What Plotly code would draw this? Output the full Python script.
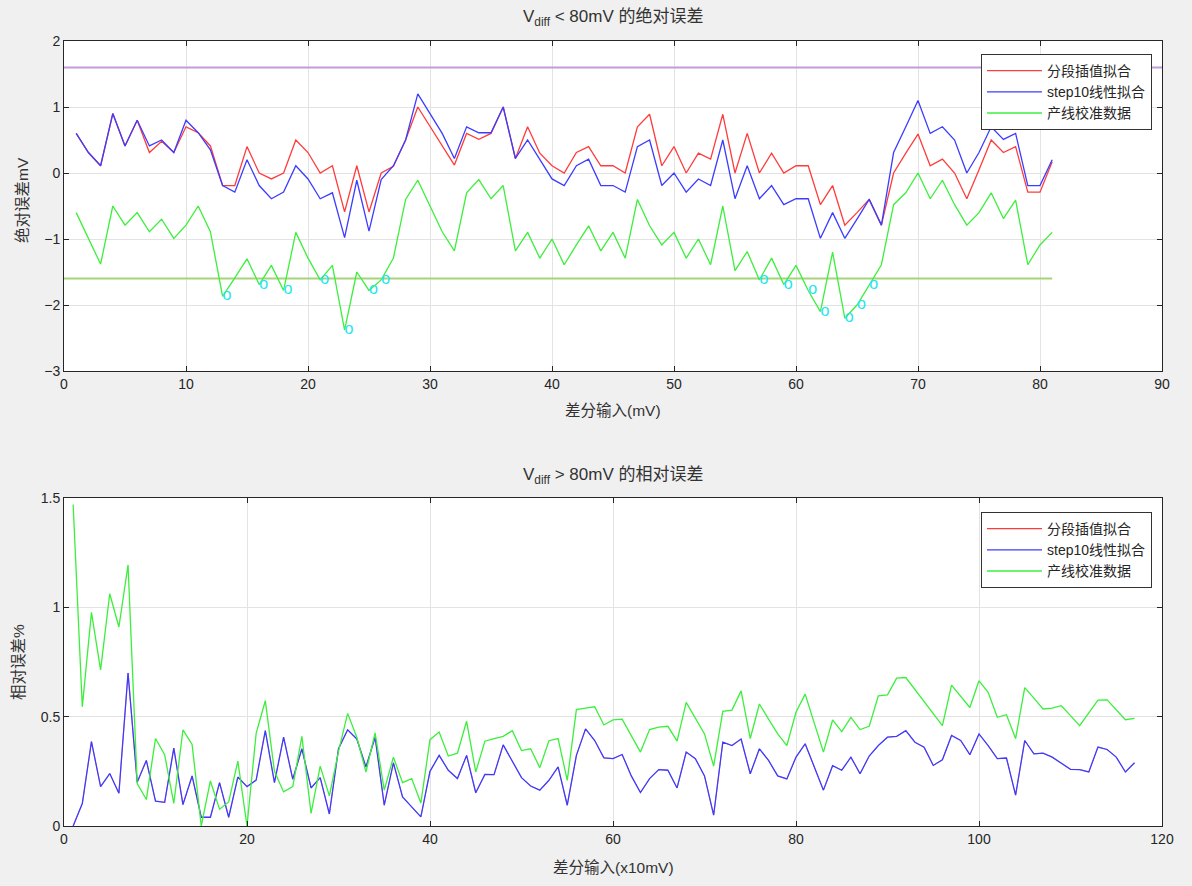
import plotly.graph_objects as go

# ---------------- data: top chart (Vdiff < 80mV, absolute error, mV) ----------------
top_red = [0.60, 0.31, 0.11, 0.90, 0.41, 0.80, 0.31, 0.48, 0.31, 0.70,
           0.61, 0.41, -0.19, -0.19, 0.40, 0.00, -0.09, 0.00, 0.50, 0.31,
           0.00, 0.11, -0.59, 0.11, -0.59, 0.00, 0.10, 0.50, 1.00, 0.70,
           0.40, 0.12, 0.60, 0.51, 0.60, 1.00, 0.22, 0.70, 0.30, 0.11,
           0.00, 0.31, 0.40, 0.11, 0.11, 0.00, 0.70, 0.89, 0.11, 0.40,
           0.00, 0.30, 0.21, 0.89, 0.00, 0.60, 0.00, 0.30, 0.00, 0.11,
           0.11, -0.48, -0.19, -0.79, -0.60, -0.40, -0.79, 0.00, 0.30, 0.59,
           0.11, 0.21, 0.00, -0.39, 0.05, 0.50, 0.31, 0.40, -0.29, -0.29,
           0.17]
top_blue = [0.60, 0.31, 0.11, 0.90, 0.41, 0.80, 0.41, 0.50, 0.31, 0.80,
            0.61, 0.35, -0.19, -0.29, 0.20, -0.19, -0.39, -0.29, 0.11, -0.09,
            -0.39, -0.30, -0.98, -0.11, -0.88, -0.10, 0.11, 0.50, 1.20, 0.90,
            0.60, 0.22, 0.70, 0.61, 0.61, 1.00, 0.22, 0.50, 0.21, -0.09,
            -0.19, 0.11, 0.21, -0.19, -0.19, -0.29, 0.40, 0.50, -0.19, 0.00,
            -0.29, -0.09, -0.19, 0.50, -0.39, 0.11, -0.39, -0.19, -0.48, -0.39,
            -0.39, -0.99, -0.60, -0.99, -0.70, -0.40, -0.79, 0.31, 0.70, 1.10,
            0.60, 0.70, 0.50, 0.00, 0.31, 0.70, 0.51, 0.60, -0.19, -0.19,
            0.20]
top_green = [-0.60, -0.98, -1.38, -0.50, -0.79, -0.60, -0.89, -0.70, -0.99, -0.79,
             -0.50, -0.89, -1.87, -1.59, -1.30, -1.69, -1.40, -1.78, -0.90, -1.29,
             -1.62, -1.40, -2.38, -1.50, -1.78, -1.62, -1.29, -0.40, -0.11, -0.50,
             -0.89, -1.18, -0.30, -0.10, -0.39, -0.19, -1.18, -0.90, -1.29, -1.00,
             -1.39, -1.09, -0.80, -1.18, -0.90, -1.29, -0.40, -0.80, -1.09, -0.90,
             -1.29, -1.00, -1.39, -0.50, -1.48, -1.19, -1.62, -1.29, -1.69, -1.40,
             -1.78, -2.10, -1.20, -2.20, -2.00, -1.70, -1.39, -0.48, -0.30, 0.00,
             -0.39, -0.11, -0.48, -0.79, -0.60, -0.30, -0.69, -0.41, -1.39, -1.09,
             -0.90]
top_x = list(range(1, len(top_green) + 1))
upper_limit = 1.6
lower_limit = -1.6
upper_limit_x = [0, 90]
lower_limit_x = [0, 81]

# ---------------- data: bottom chart (Vdiff > 80mV, relative error, %) ----------------
bot_blue = [0.0, 0.103, 0.386, 0.18, 0.24, 0.15, 0.70, 0.20, 0.30, 0.114,
            0.108, 0.356, 0.098, 0.229, 0.04, 0.04, 0.198, 0.04, 0.224, 0.18,
            0.21, 0.436, 0.198, 0.406, 0.214, 0.353, 0.174, 0.221, 0.055, 0.353,
            0.44, 0.398, 0.27, 0.406, 0.095, 0.289, 0.133, 0.088, 0.042, 0.25,
            0.323, 0.255, 0.217, 0.323, 0.152, 0.236, 0.235, 0.371, 0.297, 0.221,
            0.183, 0.164, 0.209, 0.27, 0.095, 0.323, 0.444, 0.391, 0.312, 0.308,
            0.327, 0.229, 0.153, 0.217, 0.258, 0.255, 0.174, 0.338, 0.308, 0.229,
            0.05, 0.383, 0.368, 0.398, 0.239, 0.353, 0.30, 0.229, 0.215, 0.315,
            0.376, 0.27, 0.164, 0.276, 0.255, 0.315, 0.239, 0.32, 0.368, 0.406,
            0.41, 0.436, 0.383, 0.36, 0.277, 0.303, 0.414, 0.391, 0.326, 0.421,
            0.368, 0.308, 0.311, 0.141, 0.391, 0.33, 0.333, 0.315, 0.289, 0.259,
            0.258, 0.247, 0.361, 0.35, 0.315, 0.247, 0.289]
bot_red = list(bot_blue)  # piecewise fit coincides with step10 fit (hidden underneath)
bot_green = [1.47, 0.545, 0.977, 0.714, 1.062, 0.91, 1.194, 0.194, 0.121, 0.40,
             0.326, 0.103, 0.44, 0.373, 0.0, 0.206, 0.077, 0.11, 0.297, 0.0,
             0.424, 0.573, 0.25, 0.156, 0.18, 0.41, 0.058, 0.274, 0.138, 0.341,
             0.515, 0.406, 0.247, 0.426, 0.164, 0.315, 0.198, 0.217, 0.105, 0.395,
             0.43, 0.32, 0.333, 0.479, 0.247, 0.388, 0.40, 0.41, 0.436, 0.345,
             0.353, 0.267, 0.39, 0.40, 0.209, 0.532, 0.539, 0.545, 0.462, 0.485,
             0.489, 0.414, 0.338, 0.441, 0.452, 0.456, 0.388, 0.565, 0.494, 0.421,
             0.274, 0.524, 0.53, 0.618, 0.40, 0.558, 0.489, 0.421, 0.368, 0.52,
             0.603, 0.47, 0.338, 0.485, 0.432, 0.497, 0.441, 0.456, 0.595, 0.60,
             0.676, 0.679, 0.623, 0.57, 0.514, 0.459, 0.644, 0.592, 0.542, 0.664,
             0.611, 0.497, 0.509, 0.40, 0.633, 0.585, 0.535, 0.539, 0.55, 0.505,
             0.459, 0.517, 0.576, 0.577, 0.532, 0.486, 0.492]
bot_x = list(range(1, len(bot_green) + 1))

names = ["分段插值拟合", "step10线性拟合", "产线校准数据"]
colors = ["#ff3c3c", "#3c3cff", "#3cef3c"]

W, H = 1192, 886
def px(v):
    return v / W
def py(v):
    return 1 - v / H

LATIN = "Liberation Sans, Arial, Noto Sans CJK SC"
CJK = "Liberation Sans, Noto Sans CJK SC"
TXT = "#262626"
LW = 1.3

fig = go.Figure()

# top chart: limit lines
fig.add_trace(go.Scatter(x=upper_limit_x, y=[upper_limit, upper_limit], mode="lines",
                         line=dict(color="#c39bd6", width=2), showlegend=False,
                         xaxis="x", yaxis="y", hoverinfo="skip"))
fig.add_trace(go.Scatter(x=lower_limit_x, y=[lower_limit, lower_limit], mode="lines",
                         line=dict(color="#a6d47a", width=2), showlegend=False,
                         xaxis="x", yaxis="y", hoverinfo="skip"))
for nm, col, ys in zip(names, colors, [top_red, top_blue, top_green]):
    fig.add_trace(go.Scatter(x=top_x, y=ys, mode="lines", name=nm,
                             line=dict(color=col, width=LW),
                             xaxis="x", yaxis="y", legend="legend"))

# cyan 'o' markers where production data fall below the lower limit
mx = [x for x, g in zip(top_x, top_green) if g < lower_limit]
my = [g for g in top_green if g < lower_limit]
fig.add_trace(go.Scatter(x=mx, y=my, mode="text", text=["o"] * len(mx),
                         textposition="middle right",
                         textfont=dict(color="#1ee6f0", size=16, family=LATIN),
                         showlegend=False, xaxis="x", yaxis="y", hoverinfo="skip"))

# bottom chart: red data hidden underneath blue (thin so blue stays pure)
fig.add_trace(go.Scatter(x=bot_x, y=bot_red, mode="lines", name=names[0],
                         line=dict(color=colors[0], width=0.6), showlegend=False,
                         legendgroup="r2", xaxis="x2", yaxis="y2"))
fig.add_trace(go.Scatter(x=[None], y=[None], mode="lines", name=names[0],
                         line=dict(color=colors[0], width=LW), legendgroup="r2",
                         xaxis="x2", yaxis="y2", legend="legend2"))
for nm, col, ys in zip(names[1:], colors[1:], [bot_blue, bot_green]):
    fig.add_trace(go.Scatter(x=bot_x, y=ys, mode="lines", name=nm,
                             line=dict(color=col, width=LW),
                             xaxis="x2", yaxis="y2", legend="legend2"))

axis_common = dict(showline=True, linecolor="#262626", linewidth=1, mirror="ticks",
                   ticks="inside", ticklen=5, tickcolor="#262626",
                   showgrid=True, gridcolor="#e3e3e3", gridwidth=1,
                   zeroline=False, automargin=False,
                   tickfont=dict(family=LATIN, size=14, color=TXT))

top_dom_y = [py(371), py(41)]
bot_dom_y = [py(826), py(498)]
dom_x = [px(64), px(1162)]

legend_common = dict(xanchor="right", yanchor="top", bgcolor="#ffffff",
                     bordercolor="#333333", borderwidth=1, itemwidth=55,
                     font=dict(family=CJK, size=14, color=TXT), tracegroupgap=0)

fig.update_layout(
    width=W, height=H,
    margin=dict(l=0, r=0, t=0, b=0, autoexpand=False),
    paper_bgcolor="#f0f0f0", plot_bgcolor="#ffffff",
    xaxis=dict(domain=dom_x, range=[0, 90], tickvals=list(range(0, 91, 10)),
               anchor="y", **axis_common),
    yaxis=dict(domain=top_dom_y, range=[-3, 2], tickvals=[-3, -2, -1, 0, 1, 2],
               anchor="x", **axis_common),
    xaxis2=dict(domain=dom_x, range=[0, 120], tickvals=list(range(0, 121, 20)),
                anchor="y2", **axis_common),
    yaxis2=dict(domain=bot_dom_y, range=[0, 1.5], tickvals=[0, 0.5, 1, 1.5],
                ticktext=["0", "0.5", "1", "1.5"], anchor="x2", **axis_common),
    legend=dict(x=px(1152), y=py(54), **legend_common),
    legend2=dict(x=px(1152), y=py(512), **legend_common),
    showlegend=True,
)

title_font = dict(family=CJK, size=17, color="#333333")
label_font = dict(family=CJK, size=15.5, color="#333333")
fig.add_annotation(x=px(613), y=py(18), xref="paper", yref="paper", showarrow=False,
                   text="V<sub>diff</sub> &lt; 80mV 的绝对误差", font=title_font,
                   xanchor="center", yanchor="middle")
fig.add_annotation(x=px(613), y=py(476), xref="paper", yref="paper", showarrow=False,
                   text="V<sub>diff</sub> &gt; 80mV 的相对误差", font=title_font,
                   xanchor="center", yanchor="middle")
fig.add_annotation(x=px(613), y=py(410), xref="paper", yref="paper", showarrow=False,
                   text="差分输入(mV)", font=label_font, xanchor="center", yanchor="middle")
fig.add_annotation(x=px(613), y=py(867), xref="paper", yref="paper", showarrow=False,
                   text="差分输入(x10mV)", font=label_font, xanchor="center", yanchor="middle")
fig.add_annotation(x=px(23), y=py(200), xref="paper", yref="paper", showarrow=False,
                   text="绝对误差mV", textangle=-90, font=label_font,
                   xanchor="center", yanchor="middle")
fig.add_annotation(x=px(18), y=py(662), xref="paper", yref="paper", showarrow=False,
                   text="相对误差%", textangle=-90, font=label_font,
                   xanchor="center", yanchor="middle")

fig.write_html("out.html")
